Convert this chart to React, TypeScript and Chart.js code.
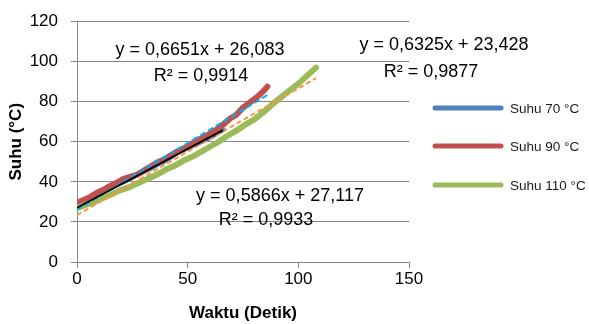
import React, { useEffect, useRef } from "react";
import { Chart, registerables } from "chart.js";

Chart.register(...registerables);

const time70 = [0, 3, 6, 9, 12, 15, 18, 21, 24, 27, 30, 33, 36, 39, 42, 45, 48, 51, 54, 57, 60, 63, 66];
const temp70 = [28.5, 30.5, 32, 33.5, 35.5, 37, 38.5, 40, 41.5, 43.5, 45, 46.5, 48.5, 50, 52, 54.5, 56, 57.5, 59, 60.5, 62, 64, 66];

const time90 = [0, 3, 6, 9, 12, 15, 18, 21, 24, 27, 30, 33, 36, 39, 42, 45, 48, 51, 54, 57, 60, 63, 66, 69, 72, 75, 78, 81, 84, 86];
const temp90 = [29.5, 31, 32.5, 34.5, 36, 38, 39.5, 41.5, 42.5, 43.5, 45.5, 47.5, 49.5, 51, 53, 55, 56.5, 58.5, 60.5, 62, 64, 66, 68.5, 71.5, 73.5, 77, 79.5, 82, 85, 87.5];

const time110 = [0, 4, 8, 12, 16, 20, 24, 28, 32, 36, 40, 44, 48, 52, 56, 60, 64, 68, 72, 76, 80, 84, 88, 92, 96, 100, 104, 108];
const temp110 = [27, 28.5, 30, 32, 34, 36, 37.5, 39.5, 41.5, 43.5, 46, 48, 50.5, 52.5, 55, 57.5, 60, 63, 65.5, 68.5, 71, 74.5, 78.5, 82, 85.5, 89, 93, 97];

const trendBlackX = [0, 66];
const trendBlackY = [27.117, 65.8];
const trendCyanX = [0, 86];
const trendCyanY = [26.083, 83.3];
const trendOrangeX = [0, 108];
const trendOrangeY = [23.428, 91.7];

const seriesNames = ["Suhu 70 °C", "Suhu 90 °C", "Suhu 110 °C"];
const seriesColors = ["#4F81BD", "#C0504D", "#9BBB59"];

const xTicks = [0, 50, 100, 150];

const labelsText = [
  { lines: ["y = 0,6651x + 26,083", "R² = 0,9914"], pos: [[200, 50], [201, 76]] },
  { lines: ["y = 0,6325x + 23,428", "R² = 0,9877"], pos: [[444, 45], [431, 72]] },
  { lines: ["y = 0,5866x + 27,117", "R² = 0,9933"], pos: [[280, 196], [266, 220]] },
];

function pts(xs: number[], ys: number[]) {
  return xs.map((x, i) => ({ x, y: ys[i] }));
}

const overlayPlugin = {
  id: "overlay",
  afterDraw(chart: any) {
    const ctx = chart.ctx;
    ctx.save();
    ctx.fillStyle = "#000";
    ctx.font = "18px 'Liberation Sans'";
    ctx.textAlign = "center";
    ctx.textBaseline = "middle";
    labelsText.forEach((l) => {
      l.lines.forEach((t, i) => {
        ctx.fillText(t, l.pos[i][0], l.pos[i][1]);
      });
    });
    const ys = [108, 146, 185];
    seriesNames.forEach((name, i) => {
      ctx.strokeStyle = seriesColors[i];
      ctx.lineWidth = 5;
      ctx.lineCap = "round";
      ctx.beginPath();
      ctx.moveTo(435, ys[i]);
      ctx.lineTo(501, ys[i]);
      ctx.stroke();
      ctx.fillStyle = "#1a1a1a";
      ctx.font = "13.5px 'Liberation Sans'";
      ctx.textAlign = "left";
      ctx.fillText(name, 510, ys[i] + 1);
    });
    ctx.restore();
  },
};

export default function App() {
  const ref = useRef<HTMLCanvasElement | null>(null);
  useEffect(() => {
    if (!ref.current) return;
    const gray = "#868686";
    const chart = new Chart(ref.current, {
      type: "scatter",
      data: {
        datasets: [
          {
            label: "trend70",
            data: pts(trendBlackX, trendBlackY),
            showLine: true,
            borderColor: "#000000",
            borderWidth: 1.8,
            pointRadius: 0,
            order: 0,
          },
          {
            label: "trend90",
            data: pts(trendCyanX, trendCyanY),
            showLine: true,
            borderColor: "#00B0F0",
            borderWidth: 2,
            borderDash: [6, 3],
            pointRadius: 0,
            order: 0,
          },
          {
            label: "trend110",
            data: pts(trendOrangeX, trendOrangeY),
            showLine: true,
            borderColor: "#F79646",
            borderWidth: 2,
            borderDash: [5, 3],
            pointRadius: 0,
            order: 0,
          },
          {
            label: seriesNames[2],
            data: pts(time110, temp110),
            showLine: true,
            borderColor: seriesColors[2],
            borderWidth: 6,
            borderCapStyle: "round",
            borderJoinStyle: "round",
            pointRadius: 0,
            order: 1,
          },
          {
            label: seriesNames[1],
            data: pts(time90, temp90),
            showLine: true,
            borderColor: seriesColors[1],
            borderWidth: 6,
            borderCapStyle: "round",
            borderJoinStyle: "round",
            pointRadius: 0,
            order: 2,
          },
          {
            label: seriesNames[0],
            data: pts(time70, temp70),
            showLine: true,
            borderColor: seriesColors[0],
            borderWidth: 5,
            borderCapStyle: "round",
            borderJoinStyle: "round",
            pointRadius: 0,
            order: 3,
          },
        ],
      },
      options: {
        animation: false,
        responsive: false,
        maintainAspectRatio: false,
        layout: { padding: { left: 0, right: 180, top: 20, bottom: 0 } },
        plugins: {
          legend: { display: false },
          tooltip: { enabled: false },
        },
        scales: {
          x: {
            type: "linear",
            min: 0,
            max: 150,
            afterBuildTicks: (s: any) => {
              s.ticks = xTicks.map((v) => ({ value: v }));
            },
            afterFit: (s: any) => {
              s.height = 62;
            },
            ticks: {
              color: "#000",
              font: { size: 17, family: "'Liberation Sans'" },
              padding: 1,
            },
            grid: {
              drawOnChartArea: false,
              drawTicks: true,
              tickLength: 6,
              color: gray,
            },
            border: { color: gray, width: 1 },
            title: {
              display: true,
              text: "Waktu (Detik)",
              color: "#000",
              font: { size: 17, weight: "bold", family: "'Liberation Sans'" },
              padding: { top: 0, bottom: 0 },
            },
          },
          y: {
            type: "linear",
            min: 0,
            max: 120,
            ticks: {
              stepSize: 20,
              color: "#000",
              font: { size: 17, family: "'Liberation Sans'", lineHeight: 1 },
              padding: 13,
            },
            afterFit: (s: any) => {
              s.width = 77;
            },
            grid: {
              color: gray,
              tickLength: 6,
              lineWidth: 1,
            },
            border: { color: gray, width: 1 },
            title: {
              display: true,
              text: "Suhu (°C)",
              color: "#000",
              font: { size: 17, weight: "bold", family: "'Liberation Sans'" },
              padding: { top: 6, bottom: 0 },
            },
          },
        },
      },
      plugins: [overlayPlugin],
    } as any);
    return () => chart.destroy();
  }, []);
  return (
    <div style={{ position: "fixed", left: 0, top: 0, width: 589, height: 324, background: "#fff" }}>
      <canvas ref={ref} width={589} height={324} style={{ width: 589, height: 324 }} />
    </div>
  );
}
